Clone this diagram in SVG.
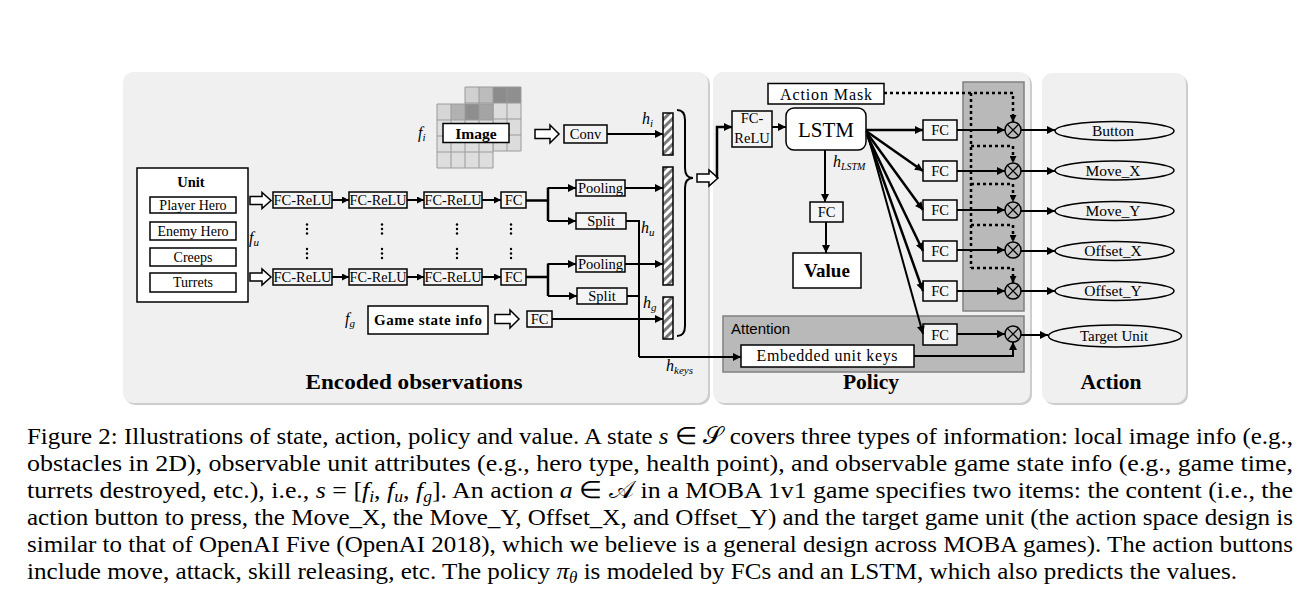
<svg xmlns="http://www.w3.org/2000/svg" width="1311" height="592" viewBox="0 0 1311 592">
<style>
text{font-family:"Liberation Serif","Times New Roman",serif;fill:#000}
.t{font-size:14.5px;text-anchor:middle}
.b{font-weight:bold}
.m{font-style:italic;font-size:16px}
.box{fill:#fff;stroke:#000;stroke-width:1.5}
.fbox{fill:#f4f4f4;stroke:#000;stroke-width:1.5}
.panel{fill:#f0f0f0}
.shadow{fill:#cdcdcd}
.ln{fill:none;stroke:#000;stroke-width:2.5}
.thin{fill:none;stroke:#000;stroke-width:2}
.dot{fill:none;stroke:#000;stroke-width:2.5;stroke-dasharray:3 3}
.hollow{fill:#fff;stroke:#000;stroke-width:1.5}
.cap{font-size:23.5px}
.title{font-size:21.5px;font-weight:bold;text-anchor:middle}
.gc{stroke:#9a9a9a;stroke-width:1}
</style>
<defs>
<marker id="ah" viewBox="0 0 10 10" refX="10" refY="5" markerWidth="9" markerHeight="8" markerUnits="userSpaceOnUse" orient="auto"><path d="M0,0 L10,5 L0,10 z" fill="#000"/></marker>
<marker id="ahs" viewBox="0 0 10 10" refX="10" refY="5" markerWidth="8" markerHeight="7" markerUnits="userSpaceOnUse" orient="auto"><path d="M0,0 L10,5 L0,10 z" fill="#000"/></marker>
<pattern id="hatch" width="6" height="6" patternUnits="userSpaceOnUse" patternTransform="rotate(45)"><rect width="6" height="6" fill="#fff"/><rect width="3" height="6" fill="#7a7a7a"/></pattern>
<path id="ha" d="M0,-4.5 L15,-4.5 L15,-9 L24,0 L15,9 L15,4.5 L0,4.5 Z"/>
<path id="has" d="M0,-4 L12,-4 L12,-8 L21,0 L12,8 L12,4 L0,4 Z"/>
<g id="otimes"><circle r="8" fill="none" stroke="#000" stroke-width="1.5"/><path d="M-5.6,-5.6 L5.6,5.6 M-5.6,5.6 L5.6,-5.6" stroke="#000" stroke-width="1.3"/></g>
</defs>

<!-- panels -->
<g id="panels">
<rect class="shadow" x="125" y="74" width="585" height="331" rx="10"/>
<rect class="panel" x="123" y="72" width="585" height="331" rx="10"/>
<rect class="shadow" x="715" y="74" width="317" height="331" rx="10"/>
<rect class="panel" x="713" y="72" width="317" height="331" rx="10"/>
<rect class="shadow" x="1044" y="75" width="144" height="330" rx="10"/>
<rect class="panel" x="1042" y="73" width="144" height="330" rx="10"/>
<text class="title" x="414" y="389" textLength="217" lengthAdjust="spacingAndGlyphs">Encoded observations</text>
<text class="title" x="871" y="389">Policy</text>
<text class="title" x="1111" y="389">Action</text>
</g>

<!-- shaded areas -->
<g id="mask-column"><rect x="963" y="82" width="61" height="229" fill="#b9b9b9" stroke="#808080" stroke-width="1.5"/></g>
<g id="attention"><rect x="723" y="316" width="301" height="56" fill="#b9b9b9" stroke="#808080" stroke-width="1.5"/>
<text x="731" y="334" style="font-family:'Liberation Sans',Arial,sans-serif;font-size:15px">Attention</text></g>

<!-- image -->
<g id="image">
<g fill="#dcdcdc">
<rect x="465" y="87" width="14" height="16" fill="#d0d0d0"/><rect x="479" y="87" width="14" height="16" fill="#bcbcbc"/><rect x="493" y="87" width="14" height="16" fill="#8c8c8c"/><rect x="507" y="87" width="14" height="16" fill="#8f8f8f"/>
<rect x="465" y="103" width="56" height="48"/>
</g>
<g class="gc"><path d="M465,87 H521 V151 H465 Z M465,103 H521 M465,119 H521 M465,135 H521 M479,87 V151 M493,87 V151 M507,87 V151" fill="none"/></g>
<g>
<rect x="437" y="104" width="56" height="64" fill="#dedede"/>
<rect x="437" y="104" width="14" height="16" fill="#d6d6d6"/><rect x="451" y="104" width="14" height="16" fill="#b2b2b2"/><rect x="465" y="104" width="14" height="16" fill="#8e8e8e"/><rect x="479" y="104" width="14" height="16" fill="#a4a4a4"/>
</g>
<g class="gc"><path d="M437,104 H493 V168 H437 Z M437,120 H493 M437,136 H493 M437,152 H493 M451,104 V168 M465,104 V168 M479,104 V168" fill="none"/></g>
<rect class="box" x="443" y="123.5" width="66" height="19"/>
<text class="b" x="476" y="139" style="font-size:15.5px;text-anchor:middle">Image</text>
<text class="m" x="418" y="138">f<tspan dy="3" font-size="11">i</tspan></text>
</g>

<!-- unit box -->
<g id="unit">
<rect class="box" x="137" y="168" width="111" height="134"/>
<text class="t b" x="191" y="187">Unit</text>
<rect class="box" x="150" y="197" width="86" height="16"/><text class="t" x="193" y="210" style="font-size:14px">Player Hero</text>
<rect class="box" x="150" y="222" width="86" height="18"/><text class="t" x="193" y="236" style="font-size:14px">Enemy Hero</text>
<rect class="box" x="150" y="248" width="86" height="18"/><text class="t" x="193" y="262" style="font-size:14px">Creeps</text>
<rect class="box" x="150" y="273" width="86" height="19"/><text class="t" x="193" y="287" style="font-size:14px">Turrets</text>
<text class="m" x="249" y="243">f<tspan dy="3" font-size="11">u</tspan></text>
</g>

<!-- FC rows -->
<g id="fc-row-top">
<rect class="fbox" x="273" y="192" width="59" height="16"/><text class="t" x="302.5" y="205" textLength="58" lengthAdjust="spacingAndGlyphs">FC-ReLU</text>
<rect class="fbox" x="349" y="192" width="58" height="16"/><text class="t" x="378" y="205" textLength="57" lengthAdjust="spacingAndGlyphs">FC-ReLU</text>
<rect class="fbox" x="424" y="192" width="58" height="16"/><text class="t" x="453" y="205" textLength="57" lengthAdjust="spacingAndGlyphs">FC-ReLU</text>
<rect class="fbox" x="501" y="192" width="25" height="16"/><text class="t" x="513.5" y="205">FC</text>
</g>
<g id="fc-row-bottom">
<rect class="fbox" x="273" y="269" width="59" height="16"/><text class="t" x="302.5" y="282" textLength="58" lengthAdjust="spacingAndGlyphs">FC-ReLU</text>
<rect class="fbox" x="349" y="269" width="58" height="16"/><text class="t" x="378" y="282" textLength="57" lengthAdjust="spacingAndGlyphs">FC-ReLU</text>
<rect class="fbox" x="424" y="269" width="58" height="16"/><text class="t" x="453" y="282" textLength="57" lengthAdjust="spacingAndGlyphs">FC-ReLU</text>
<rect class="fbox" x="501" y="269" width="25" height="16"/><text class="t" x="513.5" y="282">FC</text>
</g>
<g id="ellipsis-dots" fill="#000">
<circle cx="307" cy="224.5" r="1.2"/><circle cx="307" cy="229" r="1.2"/><circle cx="307" cy="233.5" r="1.2"/><circle cx="307" cy="249" r="1.2"/><circle cx="307" cy="253.5" r="1.2"/><circle cx="307" cy="258" r="1.2"/>
<circle cx="382" cy="224.5" r="1.2"/><circle cx="382" cy="229" r="1.2"/><circle cx="382" cy="233.5" r="1.2"/><circle cx="382" cy="249" r="1.2"/><circle cx="382" cy="253.5" r="1.2"/><circle cx="382" cy="258" r="1.2"/>
<circle cx="457" cy="224.5" r="1.2"/><circle cx="457" cy="229" r="1.2"/><circle cx="457" cy="233.5" r="1.2"/><circle cx="457" cy="249" r="1.2"/><circle cx="457" cy="253.5" r="1.2"/><circle cx="457" cy="258" r="1.2"/>
<circle cx="511" cy="224.5" r="1.2"/><circle cx="511" cy="229" r="1.2"/><circle cx="511" cy="233.5" r="1.2"/><circle cx="511" cy="249" r="1.2"/><circle cx="511" cy="253.5" r="1.2"/><circle cx="511" cy="258" r="1.2"/>
</g>

<g id="pool-split">
<rect class="fbox" x="576" y="180" width="49" height="16"/><text class="t" x="600.5" y="193">Pooling</text>
<rect class="fbox" x="576" y="213" width="50" height="16"/><text class="t" x="601" y="226">Split</text>
<rect class="fbox" x="576" y="256" width="49" height="16"/><text class="t" x="600.5" y="269">Pooling</text>
<rect class="fbox" x="577" y="288" width="50" height="16"/><text class="t" x="602" y="301">Split</text>
</g>

<g id="conv"><rect class="fbox" x="564" y="125" width="43" height="18"/><text class="t" x="585.5" y="139">Conv</text></g>

<g id="game-state">
<rect class="box" x="368" y="306" width="120" height="28"/>
<text class="b" x="428" y="325" style="font-size:15px;text-anchor:middle" textLength="108" lengthAdjust="spacing">Game state info</text>
<text class="m" x="345" y="324">f<tspan dy="3" font-size="11">g</tspan></text>
<rect class="fbox" x="527" y="311" width="25" height="16"/><text class="t" x="539.5" y="324">FC</text>
</g>

<g id="feature-bars">
<rect x="663" y="113" width="10" height="42" fill="url(#hatch)" stroke="#000" stroke-width="1.5"/>
<rect x="663" y="167" width="10" height="118" fill="url(#hatch)" stroke="#000" stroke-width="1.5"/>
<rect x="663" y="297" width="10" height="42" fill="url(#hatch)" stroke="#000" stroke-width="1.5"/>
<text class="m" x="642" y="124">h<tspan dy="3" font-size="11">i</tspan></text>
<text class="m" x="641" y="233">h<tspan dy="3" font-size="11">u</tspan></text>
<text class="m" x="643" y="308">h<tspan dy="3" font-size="11">g</tspan></text>
<text class="m" x="666" y="371">h<tspan dy="3" font-size="11">keys</tspan></text>
</g>

<!-- policy nodes -->
<g id="action-mask"><rect class="box" x="768" y="83.5" width="116" height="20.5"/><text x="826" y="100" style="font-size:16px;text-anchor:middle" textLength="92" lengthAdjust="spacing">Action Mask</text></g>
<g id="fc-relu-policy"><rect class="fbox" x="732" y="111" width="40" height="36"/><text class="t" x="752" y="123">FC-</text><text class="t" x="752" y="142.5">ReLU</text></g>
<g id="lstm"><rect x="786" y="108" width="80" height="42" rx="8" fill="#fff" stroke="#000" stroke-width="1.5"/><text x="826" y="137" style="font-size:21px;text-anchor:middle">LSTM</text>
<text class="m" x="833" y="167">h<tspan dy="3" font-size="10">LSTM</tspan></text></g>
<g id="fc-value"><rect class="fbox" x="810" y="202" width="33" height="20"/><text class="t" x="826.5" y="217">FC</text></g>
<g id="value"><rect class="box" x="793" y="253" width="68" height="35"/><text class="b" x="827" y="277" style="font-size:19px;text-anchor:middle">Value</text></g>
<g id="fc-heads">
<rect class="fbox" x="923" y="120" width="34" height="20"/><text class="t" x="940" y="135">FC</text>
<rect class="fbox" x="923" y="161" width="34" height="20"/><text class="t" x="940" y="176">FC</text>
<rect class="fbox" x="923" y="200" width="34" height="20"/><text class="t" x="940" y="215">FC</text>
<rect class="fbox" x="923" y="241" width="34" height="20"/><text class="t" x="940" y="256">FC</text>
<rect class="fbox" x="923" y="281" width="34" height="20"/><text class="t" x="940" y="296">FC</text>
<rect class="fbox" x="923" y="324" width="34" height="21"/><text class="t" x="940" y="339.5">FC</text>
</g>
<g id="embedded-keys"><rect class="box" x="741" y="345" width="173" height="22"/><text x="827" y="361" style="font-size:16px;text-anchor:middle" textLength="141" lengthAdjust="spacing">Embedded  unit keys</text></g>
<g id="products">
<use href="#otimes" x="1013" y="130"/><use href="#otimes" x="1013" y="171"/><use href="#otimes" x="1013" y="210"/><use href="#otimes" x="1013" y="250"/><use href="#otimes" x="1013" y="291"/><use href="#otimes" x="1013" y="334"/>
</g>

<!-- action nodes -->
<g id="actions" fill="none" stroke="#000" stroke-width="1.5">
<ellipse cx="1114.5" cy="131" rx="59.5" ry="9.5"/>
<ellipse cx="1114.5" cy="170.5" rx="59.5" ry="9.5"/>
<ellipse cx="1114.5" cy="211" rx="59.5" ry="9.5"/>
<ellipse cx="1114.5" cy="251" rx="59.5" ry="9.5"/>
<ellipse cx="1114.5" cy="291" rx="59.5" ry="9.5"/>
<ellipse cx="1115" cy="336" rx="66.5" ry="11"/>
</g>
<g id="action-labels" style="font-size:15.5px;text-anchor:middle">
<text x="1113" y="136">Button</text>
<text x="1113" y="176">Move_X</text>
<text x="1113" y="216">Move_Y</text>
<text x="1113" y="256">Offset_X</text>
<text x="1113" y="296">Offset_Y</text>
<text x="1114" y="341" style="font-size:15px">Target Unit</text>
</g>

<!-- connectors -->
<g id="connectors">
<use href="#has" x="250" y="200.5" class="hollow"/>
<use href="#has" x="250" y="277" class="hollow"/>
<use href="#ha" x="535" y="134" class="hollow"/>
<use href="#ha" x="495" y="319" class="hollow"/>
<use href="#has" x="697" y="178" class="hollow"/>
<path class="thin" d="M332,200 H349" marker-end="url(#ahs)"/><path class="thin" d="M407,200 H424" marker-end="url(#ahs)"/><path class="thin" d="M482,200 H501" marker-end="url(#ahs)"/>
<path class="thin" d="M332,277 H349" marker-end="url(#ahs)"/><path class="thin" d="M407,277 H424" marker-end="url(#ahs)"/><path class="thin" d="M482,277 H501" marker-end="url(#ahs)"/>
<path class="ln" d="M526,200.5 H548 M548,187.5 V221 M526,277 H548 M548,263.5 V296"/>
<path class="thin" d="M548,188 H576" marker-end="url(#ah)"/>
<path class="thin" d="M548,221 H576" marker-end="url(#ah)"/>
<path class="thin" d="M548,264 H576" marker-end="url(#ah)"/>
<path class="thin" d="M548,296 H577" marker-end="url(#ah)"/>
<path class="thin" d="M625,188 H663" marker-end="url(#ah)"/>
<path class="thin" d="M625,264 H663" marker-end="url(#ah)"/>
<path class="thin" d="M607,134 H663" marker-end="url(#ah)"/>
<path class="thin" d="M552,319 H663" marker-end="url(#ah)"/>
<path class="thin" d="M626,221 H639 V357 M627,296 H639"/>
<path class="thin" d="M639,357 H741" marker-end="url(#ah)"/>
<path d="M677,110 Q685,110 685,120 V168 Q685,178 693,178 Q685,178 685,188 V326 Q685,336 677,336" fill="none" stroke="#000" stroke-width="2"/>
<path class="ln" d="M717,178 V127 H732" marker-end="url(#ah)"/>
<path class="thin" d="M772,127 H786" marker-end="url(#ah)"/>
<path class="thin" d="M825,150 V202" marker-end="url(#ah)"/>
<path class="thin" d="M826,222 V253" marker-end="url(#ah)"/>
<path class="ln" d="M866,130 L923,130" marker-end="url(#ah)"/>
<path class="ln" d="M866,131 L923,171" marker-end="url(#ah)"/>
<path class="ln" d="M867,133 L923,210" marker-end="url(#ah)"/>
<path class="ln" d="M867,135 L923,251" marker-end="url(#ah)"/>
<path class="ln" d="M868,137 L923,291" marker-end="url(#ah)"/>
<path class="thin" d="M869,139 L923,334" marker-end="url(#ah)"/>
<path class="thin" d="M957,130 H1005" marker-end="url(#ah)"/>
<path class="thin" d="M957,171 H1005" marker-end="url(#ah)"/>
<path class="thin" d="M957,210 H1005" marker-end="url(#ah)"/>
<path class="thin" d="M957,250 H1005" marker-end="url(#ah)"/>
<path class="thin" d="M957,291 H1005" marker-end="url(#ah)"/>
<path class="thin" d="M957,334 H1005" marker-end="url(#ah)"/>
<path class="thin" d="M914,356 H1013 V342" marker-end="url(#ah)"/>
<path class="thin" d="M1021,130 H1055" marker-end="url(#ah)"/>
<path class="thin" d="M1021,171 H1055" marker-end="url(#ah)"/>
<path class="thin" d="M1021,211 H1055" marker-end="url(#ah)"/>
<path class="thin" d="M1021,251 H1055" marker-end="url(#ah)"/>
<path class="thin" d="M1021,291 H1055" marker-end="url(#ah)"/>
<path class="thin" d="M1021,335 H1048" marker-end="url(#ah)"/>
<path class="dot" d="M884,93 H1013 V122" marker-end="url(#ahs)"/>
<path class="dot" d="M971,93 V268"/>
<path class="dot" d="M971,146 H1013 V163" marker-end="url(#ahs)"/>
<path class="dot" d="M971,184 H1013 V202" marker-end="url(#ahs)"/>
<path class="dot" d="M971,225 H1013 V242" marker-end="url(#ahs)"/>
<path class="dot" d="M971,268 H1013 V283" marker-end="url(#ahs)"/>
</g>

<!-- caption -->
<g id="caption" class="cap">
<text class="cap" x="27" y="444" textLength="1266" lengthAdjust="spacingAndGlyphs">Figure 2: Illustrations of state, action, policy and value. A state <tspan font-style="italic">s</tspan> ∈ 𝒮 covers three types of information: local image info (e.g.,</text>
<text class="cap" x="27" y="471" textLength="1266" lengthAdjust="spacingAndGlyphs">obstacles in 2D), observable unit attributes (e.g., hero type, health point), and observable game state info (e.g., game time,</text>
<text class="cap" x="27" y="498" textLength="1266" lengthAdjust="spacingAndGlyphs">turrets destroyed, etc.), i.e., <tspan font-style="italic">s</tspan> = [<tspan font-style="italic">f</tspan><tspan dy="4" font-size="16" font-style="italic">i</tspan><tspan dy="-4">, </tspan><tspan font-style="italic">f</tspan><tspan dy="4" font-size="16" font-style="italic">u</tspan><tspan dy="-4">, </tspan><tspan font-style="italic">f</tspan><tspan dy="4" font-size="16" font-style="italic">g</tspan><tspan dy="-4">]. An action </tspan><tspan font-style="italic">a</tspan> ∈ 𝒜 in a MOBA 1v1 game specifies two items: the content (i.e., the</text>
<text class="cap" x="27" y="525" textLength="1266" lengthAdjust="spacingAndGlyphs">action button to press, the Move_X, the Move_Y, Offset_X, and Offset_Y) and the target game unit (the action space design is</text>
<text class="cap" x="27" y="552" textLength="1266" lengthAdjust="spacingAndGlyphs">similar to that of OpenAI Five (OpenAI 2018), which we believe is a general design across MOBA games). The action buttons</text>
<text class="cap" x="27" y="579" textLength="1210" lengthAdjust="spacingAndGlyphs">include move, attack, skill releasing, etc. The policy <tspan font-style="italic">π</tspan><tspan dy="4" font-size="16" font-style="italic">θ</tspan><tspan dy="-4"> is modeled by FCs and an LSTM, which also predicts the values.</tspan></text>
</g>
</svg>
